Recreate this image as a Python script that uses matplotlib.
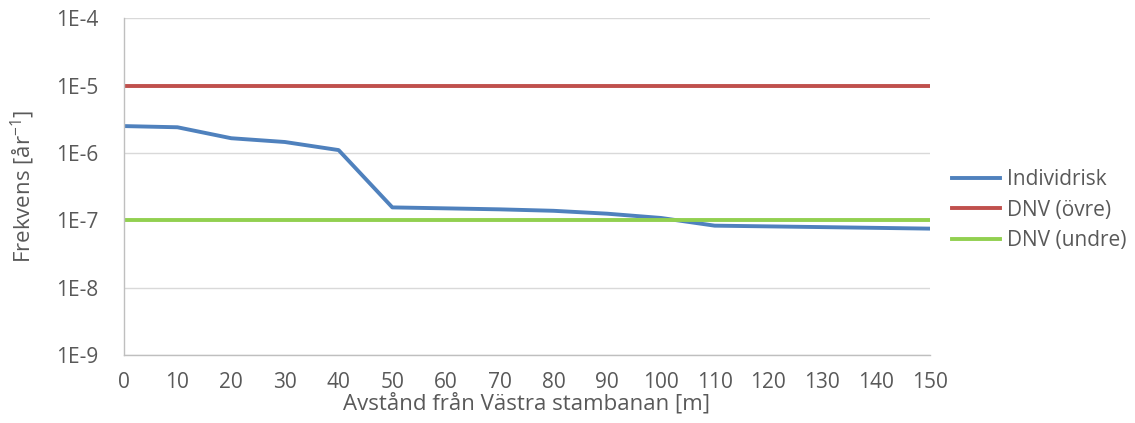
import matplotlib
matplotlib.use("Agg")
import matplotlib.pyplot as plt
from matplotlib.ticker import FixedLocator, FixedFormatter

plt.rcParams['font.family'] = ['Open Sans', 'DejaVu Sans']
plt.rcParams['mathtext.fontset'] = 'custom'
plt.rcParams['mathtext.rm'] = 'Open Sans'

# data
avstand = [0, 10, 20, 30, 40, 50, 60, 70, 80, 90, 100, 110, 120, 130, 140, 150]
individrisk = [2.5e-6, 2.4e-6, 1.65e-6, 1.45e-6, 1.1e-6, 1.55e-7, 1.5e-7, 1.45e-7,
               1.38e-7, 1.25e-7, 1.08e-7, 8.3e-8, 8.1e-8, 7.9e-8, 7.7e-8, 7.5e-8]
dnv_ovre = [1e-5] * len(avstand)
dnv_undre = [1e-7] * len(avstand)
y_ticks = [1e-9, 1e-8, 1e-7, 1e-6, 1e-5, 1e-4]
y_labels = ['1E-9', '1E-8', '1E-7', '1E-6', '1E-5', '1E-4']

text_col = '#595959'
grid_col = '#d9d9d9'

fig = plt.figure(figsize=(11.35, 4.23), dpi=100)
ax = fig.add_axes([0.109, 0.161, 0.710, 0.796])

ax.plot(avstand, individrisk, color='#4F81BD', lw=2.8, label='Individrisk')
ax.plot(avstand, dnv_ovre, color='#C0504D', lw=2.8, label='DNV (övre)')
ax.plot(avstand, dnv_undre, color='#92D050', lw=2.8, label='DNV (undre)')

ax.set_yscale('log')
ax.set_ylim(1e-9, 1e-4)
ax.set_xlim(0, 150)
ax.yaxis.set_major_locator(FixedLocator(y_ticks))
ax.yaxis.set_major_formatter(FixedFormatter(y_labels))
ax.yaxis.set_minor_locator(FixedLocator([]))
ax.set_xticks(avstand)

ax.grid(axis='y', color=grid_col, lw=1)
ax.set_axisbelow(True)
for s in ['top', 'right']:
    ax.spines[s].set_visible(False)
for s in ['left', 'bottom']:
    ax.spines[s].set_color('#bfbfbf')
    ax.spines[s].set_linewidth(1)
ax.tick_params(axis='y', length=0, pad=18, labelsize=15, colors=text_col)
ax.tick_params(axis='x', length=0, pad=12, labelsize=15, colors=text_col)

ax.set_xlabel('Avstånd från Västra stambanan [m]', fontsize=16, color=text_col, labelpad=0)
ax.set_ylabel('Frekvens [år$^{-1}$]', fontsize=16, color=text_col, labelpad=14)

ax.legend(loc='center left', bbox_to_anchor=(1.005, 0.43), frameon=False,
          fontsize=15, labelcolor=text_col, handlelength=2.3, handletextpad=0.3,
          labelspacing=0.45)

fig.savefig('out.png', dpi=100)
